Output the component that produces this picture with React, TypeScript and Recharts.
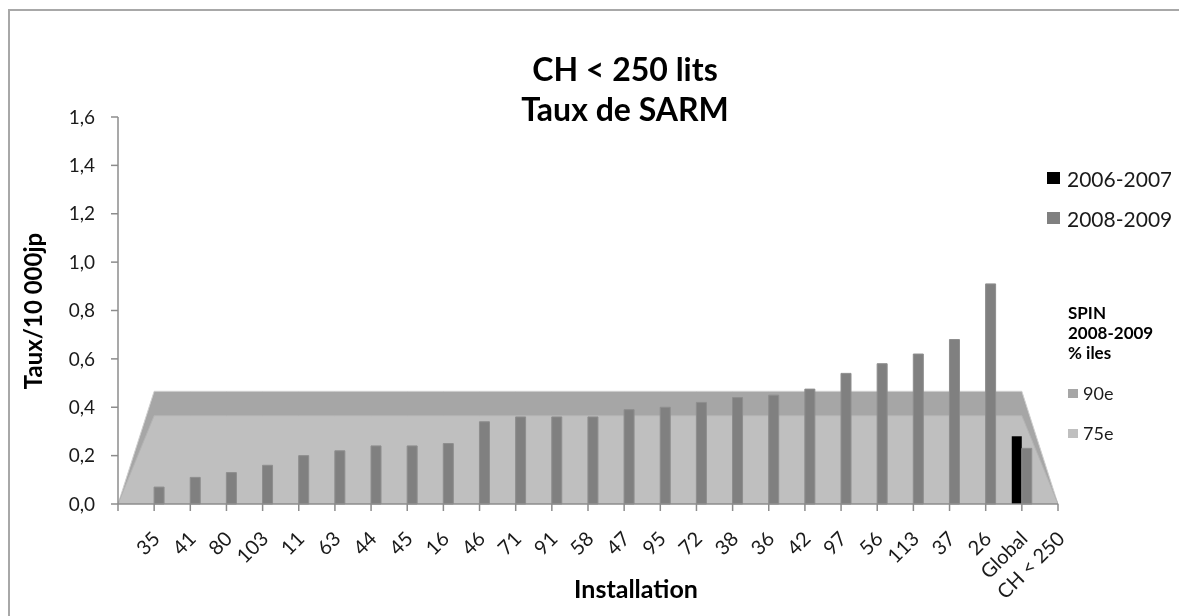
import React from 'react';
import { ComposedChart, Area, Bar, XAxis, YAxis } from 'recharts';

// Installations, sorted by 2008-2009 rate (last one is the group average)
const installations = [
  '35', '41', '80', '103', '11', '63', '44', '45', '16', '46', '71', '91', '58',
  '47', '95', '72', '38', '36', '42', '97', '56', '113', '37', '26', 'Global\nCH < 250',
];

// Taux de SARM / 10 000 jours-patient
const rate0607: (number | null)[] = [
  null, null, null, null, null, null, null, null, null, null, null, null, null,
  null, null, null, null, null, null, null, null, null, null, null, 0.28,
];
const rate0809 = [
  0.07, 0.11, 0.13, 0.16, 0.2, 0.22, 0.24, 0.24, 0.25, 0.34, 0.36, 0.36, 0.36,
  0.39, 0.4, 0.42, 0.44, 0.45, 0.475, 0.54, 0.58, 0.62, 0.68, 0.91, 0.23,
];

// SPIN 2008-2009 percentiles
const spinP90 = 0.466;
const spinP75 = 0.365;

const yTicks = [0, 0.2, 0.4, 0.6, 0.8, 1.0, 1.2, 1.4, 1.6];

const FONT = 'Lato, "Open Sans", sans-serif';
const BAR_GREY = '#808080';

// positions 0 and n+1 are the empty ends where the percentile band drops to 0
const lastPos = installations.length + 1;
const positions = Array.from({ length: lastPos + 1 }, (_, i) => i);
const rows = positions.map((pos) => {
  const i = pos - 1;
  const inside = pos > 0 && pos < lastPos;
  return {
    pos,
    p90: inside ? spinP90 : 0,
    p75: inside ? spinP75 : 0,
    y0607: inside ? rate0607[i] : null,
    y0809: inside ? rate0809[i] : null,
  };
});

const InstallTick = ({ x, y, payload }: any) => {
  const label = installations[payload.value - 1];
  if (!label) return null;
  const lines = label.split('\n');
  return (
    <g>
      {lines.map((line, k) => {
        const px = x + 7 + k * 37;
        const py = y + 29;
        return (
          <text
            key={k}
            x={px}
            y={py}
            textAnchor="end"
            transform={`rotate(-45, ${px}, ${py})`}
            fontFamily={FONT}
            fontSize={20}
            fill="#1a1a1a"
          >
            {line}
          </text>
        );
      })}
    </g>
  );
};

export default function App() {
  return (
    <div style={{ position: 'relative', width: 1163, height: 600 }}>
      {/* chart frame, runs off the right and bottom of the page */}
      <div
        style={{
          position: 'fixed',
          left: 8,
          top: 9,
          right: -20,
          bottom: -20,
          border: '2px solid #a8a8a8',
          pointerEvents: 'none',
        }}
      />
      <ComposedChart
        width={1163}
        height={600}
        data={rows}
        margin={{ top: 109, right: 113, bottom: 74, left: 10 }}
        barGap={0}
      >
        <XAxis
          type="number"
          dataKey="pos"
          height={30}
          domain={[0, lastPos]}
          ticks={positions}
          interval={0}
          tickSize={7}
          tickMargin={0}
          tick={<InstallTick />}
          axisLine={{ stroke: '#8c8c8c', strokeWidth: 1.5 }}
          tickLine={{ stroke: '#8c8c8c', strokeWidth: 1.5 }}
        />
        <YAxis
          width={100}
          domain={[0, 1.6]}
          ticks={yTicks}
          interval={0}
          tickSize={7}
          tickMargin={16}
          tickFormatter={(v: number) => v.toFixed(1).replace('.', ',')}
          tick={{ fontFamily: FONT, fontSize: 19, fill: '#1a1a1a' }}
          axisLine={{ stroke: '#8c8c8c', strokeWidth: 1.5 }}
          tickLine={{ stroke: '#8c8c8c', strokeWidth: 1.5 }}
        />
        <Area
          type="linear"
          dataKey="p90"
          fill="#a6a6a6"
          fillOpacity={1}
          stroke="#cfcfcf"
          strokeWidth={1}
          dot={false}
          activeDot={false}
          isAnimationActive={false}
        />
        <Area
          type="linear"
          dataKey="p75"
          fill="#bfbfbf"
          fillOpacity={1}
          stroke="#b4b4b4"
          strokeWidth={1}
          dot={false}
          activeDot={false}
          isAnimationActive={false}
        />
        <Bar dataKey="y0607" fill="#000000" barSize={10} isAnimationActive={false} />
        <Bar
          dataKey="y0809"
          fill={BAR_GREY}
          stroke="#8e8e8e"
          strokeWidth={1}
          barSize={10}
          isAnimationActive={false}
        />
      </ComposedChart>

      {/* titles and legends */}
      <svg
        width={1163}
        height={600}
        style={{ position: 'absolute', left: 0, top: 0, pointerEvents: 'none' }}
        fontFamily={FONT}
      >
        <text x={617} y={60} textAnchor="middle" dominantBaseline="central" fontSize={32} fontWeight="bold" fill="#000">
          CH &lt; 250 lits
        </text>
        <text x={617} y={100} textAnchor="middle" dominantBaseline="central" fontSize={32} fontWeight="bold" fill="#000">
          Taux de SARM
        </text>
        <text
          x={24}
          y={303}
          textAnchor="middle"
          dominantBaseline="central"
          transform="rotate(-90, 24, 303)"
          fontSize={24}
          fontWeight="bold"
          fill="#000"
        >
          Taux/10 000jp
        </text>
        <text x={628} y={580} textAnchor="middle" dominantBaseline="central" fontSize={25} fontWeight="bold" fill="#000">
          Installation
        </text>

        <rect x={1039} y={164} width={13} height={12} fill="#000000" />
        <text x={1059} y={170} dominantBaseline="central" fontSize={21} fill="#1a1a1a">2006-2007</text>
        <rect x={1039} y={204} width={13} height={12} fill={BAR_GREY} />
        <text x={1059} y={210} dominantBaseline="central" fontSize={21} fill="#1a1a1a">2008-2009</text>

        <text x={1060} y={304} dominantBaseline="central" fontSize={17} fontWeight="bold" fill="#000">SPIN</text>
        <text x={1060} y={324} dominantBaseline="central" fontSize={17} fontWeight="bold" fill="#000">2008-2009</text>
        <text x={1060} y={344} dominantBaseline="central" fontSize={17} fontWeight="bold" fill="#000">% iles</text>
        <rect x={1060} y={381} width={10} height={9} fill="#a6a6a6" />
        <text x={1075} y={385} dominantBaseline="central" fontSize={18} fill="#1a1a1a">90e</text>
        <rect x={1060} y={421} width={10} height={9} fill="#bfbfbf" />
        <text x={1075} y={425} dominantBaseline="central" fontSize={18} fill="#1a1a1a">75e</text>
      </svg>
    </div>
  );
}
